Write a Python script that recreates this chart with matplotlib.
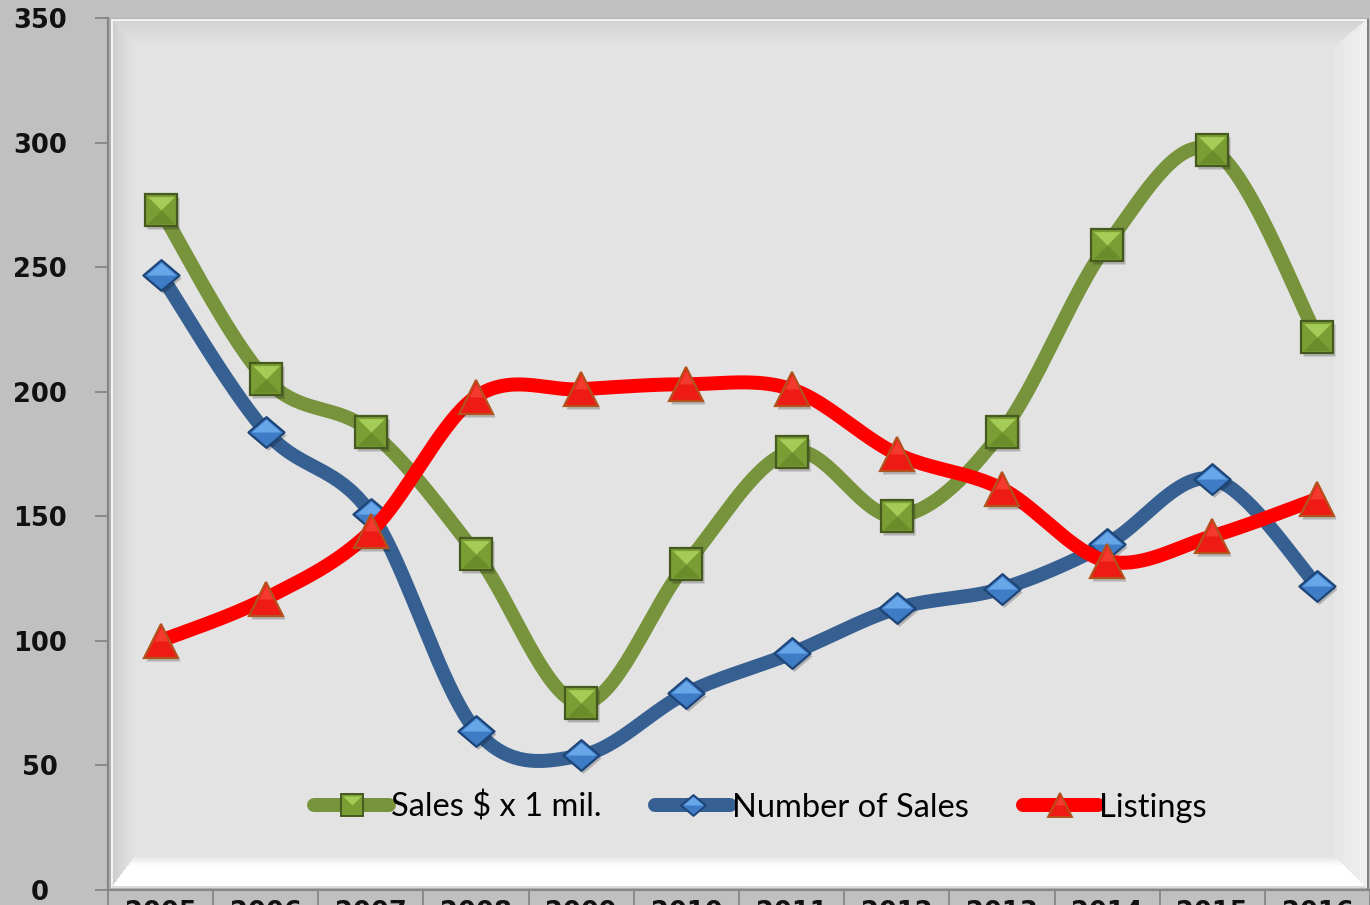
import numpy as np
import matplotlib
matplotlib.use("Agg")
import matplotlib.pyplot as plt
from matplotlib.lines import Line2D
from matplotlib.path import Path
import matplotlib.transforms as mtransforms

# ---- data -------------------------------------------------------------
years = ["2005", "2006", "2007", "2008", "2009", "2010",
         "2011", "2012", "2013", "2014", "2015", "2016"]
sales_musd = [273, 205, 184, 135, 75, 131, 176, 150, 184, 259, 297, 222]
number_of_sales = [247, 184, 151, 64, 54, 79, 95, 113, 121, 139, 165, 122]
listings = [100, 117, 144, 198, 201, 203, 201, 175, 161, 132, 142, 157]
y_ticks = [0, 50, 100, 150, 200, 250, 300, 350]
series_names = ["Sales $ x 1 mil.", "Number of Sales", "Listings"]

# ---- canvas ------------------------------------------------------------
W, H = 1370, 905
DPI = 100
PT = 72.0 / DPI  # points per pixel

fig = plt.figure(figsize=(W / DPI, H / DPI), dpi=DPI, facecolor="#C0C0C0")

# bevelled plot-area frame, built as a pixel image
yy, xx = np.mgrid[0:H, 0:W] + 0.5
img = np.full((H, W), 0.753)
L, R, T, B = 111, 1367, 19, 888
inside = (xx >= L) & (xx < R) & (yy >= T) & (yy < B)
wl, wt, wr, wb = 24, 28, 33, 32
d = np.stack([(xx - L) / wl, (yy - T) / wt, (R - xx) / wr, (B - yy) / wb])
side = d.argmin(0)
t = d.min(0).clip(0, 1)
interior = 0.894

# left: darker toward the outer edge
left = np.where(t < 0.08, 0.95, 0.80 + (interior - 0.80) * ((t - 0.08) / 0.92) ** 0.8)
# top: white rim then grey fading inward
top = np.where(t < 0.08, 0.96, 0.83 + (interior - 0.83) * ((t - 0.08) / 0.92) ** 0.9)
# right: light face
right = np.where(t < 0.2, 0.945, 0.93 - 0.025 * (t - 0.2) / 0.8)
# bottom: bright white face
bottom = np.where(t < 0.06, 0.86, np.where(t < 0.7, 1.0, 1.0 - (1.0 - interior) * (t - 0.7) / 0.3))
faces = np.stack([left, top, right, bottom])
edge = np.take_along_axis(faces, side[None], 0)[0]
shade = np.where(t >= 1, interior, edge)
img = np.where(inside, shade, img)
# thin outer outline and darker right rim
img[(yy > T - 1.5) & (yy < T) & (xx >= L - 1) & (xx < R + 2)] = 0.70
img[(xx >= L - 2) & (xx < L) & (yy >= T) & (yy < B + 1)] = 0.70
img[(xx >= R) & (xx < R + 2.5) & (yy >= T) & (yy < B + 2)] = 0.50
img[(yy >= B) & (yy < B + 1.5) & (xx >= L) & (xx < R)] = 0.72

bg = fig.add_axes([0, 0, 1, 1])
bg.imshow(np.dstack([img] * 3), extent=(0, W, H, 0), interpolation="bilinear")
bg.set_xlim(0, W)
bg.set_ylim(H, 0)
bg.axis("off")

# ---- main axes ---------------------------------------------------------
ax = fig.add_axes([108 / W, 15 / H, 1262 / W, 872 / H])
ax.set_facecolor("none")
ax.set_xlim(-0.5, len(years) - 0.5)
ax.set_ylim(0, 350)


def smooth(xs, ys, n=40):
    """Bezier smoothing with Catmull-Rom style control points."""
    P = np.column_stack([xs, ys]).astype(float)
    Pm = np.vstack([P[0], P, P[-1]])
    out = []
    s = np.linspace(0, 1, n)[:, None]
    for i in range(len(P) - 1):
        p0, p3 = P[i], P[i + 1]
        c1 = p0 + (Pm[i + 2] - Pm[i]) / 6.0
        c2 = p3 - (Pm[i + 3] - Pm[i + 1]) / 6.0
        seg = ((1 - s) ** 3) * p0 + 3 * ((1 - s) ** 2) * s * c1 \
            + 3 * (1 - s) * s ** 2 * c2 + s ** 3 * p3
        out.append(seg if i == 0 else seg[1:])
    return np.vstack(out)


x = np.arange(len(years))

diamond = Path([(0, 0.85), (1, 0), (0, -0.85), (-1, 0), (0, 0.85)],
               [Path.MOVETO, Path.LINETO, Path.LINETO, Path.LINETO, Path.CLOSEPOLY])
diamond_top = Path([(-1, 0), (0, 0.85), (1, 0), (-1, 0)],
                   [Path.MOVETO, Path.LINETO, Path.LINETO, Path.CLOSEPOLY])
square_top = Path([(-1, 1), (1, 1), (0, 0), (-1, 1)],
                  [Path.MOVETO, Path.LINETO, Path.LINETO, Path.CLOSEPOLY])
square_bot = Path([(-1, -1), (1, -1), (0, 0), (-1, -1)],
                  [Path.MOVETO, Path.LINETO, Path.LINETO, Path.CLOSEPOLY])
tri_top = Path([(-0.5, 0.0), (0, 1), (0.5, 0.0), (-0.5, 0.0)],
               [Path.MOVETO, Path.LINETO, Path.LINETO, Path.CLOSEPOLY])

styles = [
    dict(values=sales_musd, line="#77933C", marker="s", ms=23.5, fill="#7A9E34",
         edge="#46591F", hi=square_top, hi_col="#A5CC57", lo=square_bot, lo_col="#6A8C2A"),
    dict(values=number_of_sales, line="#366092", marker=diamond, ms=26, fill="#3E7CC6",
         edge="#1E4578", hi=diamond_top, hi_col="#68A6EA", lo=None, lo_col=None),
    dict(values=listings, line="#FF0000", marker="^", ms=24.5, fill="#EE1A14",
         edge="#B4521E", hi=tri_top, hi_col="#F43A2E", lo=None, lo_col=None),
]

shadow_tr = mtransforms.offset_copy(ax.transData, fig=fig, x=2, y=-3, units="dots")
LW = 14 * PT

for k, st in enumerate(styles):
    z = 3 + 2 * k
    sm = smooth(x, st["values"])
    ax.plot(sm[:, 0], sm[:, 1], color=st["line"], lw=LW, solid_capstyle="round",
            solid_joinstyle="round", zorder=z)
    ax.plot(x, st["values"], ls="none", marker=st["marker"], ms=st["ms"],
            mfc="#000000", mec="none", alpha=0.22, transform=shadow_tr,
            zorder=z + 0.2, clip_on=False)
    ax.plot(x, st["values"], ls="none", marker=st["marker"], ms=st["ms"],
            mfc=st["fill"], mec=st["edge"], mew=1.6, zorder=z + 0.4, clip_on=False)
    if st["lo"] is not None:
        ax.plot(x, st["values"], ls="none", marker=st["lo"], ms=st["ms"] * 0.82,
                mfc=st["lo_col"], mec="none", zorder=z + 0.5, clip_on=False)
    ax.plot(x, st["values"], ls="none", marker=st["hi"], ms=st["ms"] * 0.82,
            mfc=st["hi_col"], mec="none", zorder=z + 0.6, clip_on=False)

# ---- axes styling ------------------------------------------------------
axis_grey = "#868686"
for s in ("top", "right"):
    ax.spines[s].set_visible(False)
for s in ("left", "bottom"):
    ax.spines[s].set_color(axis_grey)
    ax.spines[s].set_linewidth(1.6)

ax.set_yticks(y_ticks)
ax.set_yticklabels([str(v) for v in y_ticks], fontsize=18.5, fontweight="bold",
                   ha="center", color="#111111")
ax.tick_params(axis="y", length=13 * PT, width=1.3, color=axis_grey, pad=55 * PT)

ax.set_xticks(x)
ax.set_xticklabels(years, fontsize=18.5, fontweight="bold", color="#111111")
ax.set_xticks(np.arange(-0.5, len(years), 1.0), minor=True)
ax.tick_params(axis="x", which="major", length=0, pad=10 * PT)
ax.tick_params(axis="x", which="minor", length=18 * PT, width=1.3, color=axis_grey)

# ---- legend ------------------------------------------------------------
handles = []
for st in styles:
    base = Line2D([], [], color=st["line"], lw=LW, solid_capstyle="round",
                  marker=st["marker"], ms=st["ms"] * 0.68, mfc=st["fill"],
                  mec=st["edge"], mew=1.4)
    hi = Line2D([], [], ls="none", marker=st["hi"], ms=st["ms"] * 0.68 * 0.82,
                mfc=st["hi_col"], mec="none")
    handles.append((base, hi))

leg = ax.legend(handles, series_names, loc="center", bbox_to_anchor=(0.517, 0.095),
                ncol=3, frameon=False, handlelength=2.3, handletextpad=0.05,
                columnspacing=1.65, borderpad=0,
                prop={"family": ["Lato", "DejaVu Sans"], "size": 23.5})
leg.set_zorder(20)

fig.savefig("out.png", dpi=DPI, facecolor=fig.get_facecolor())
